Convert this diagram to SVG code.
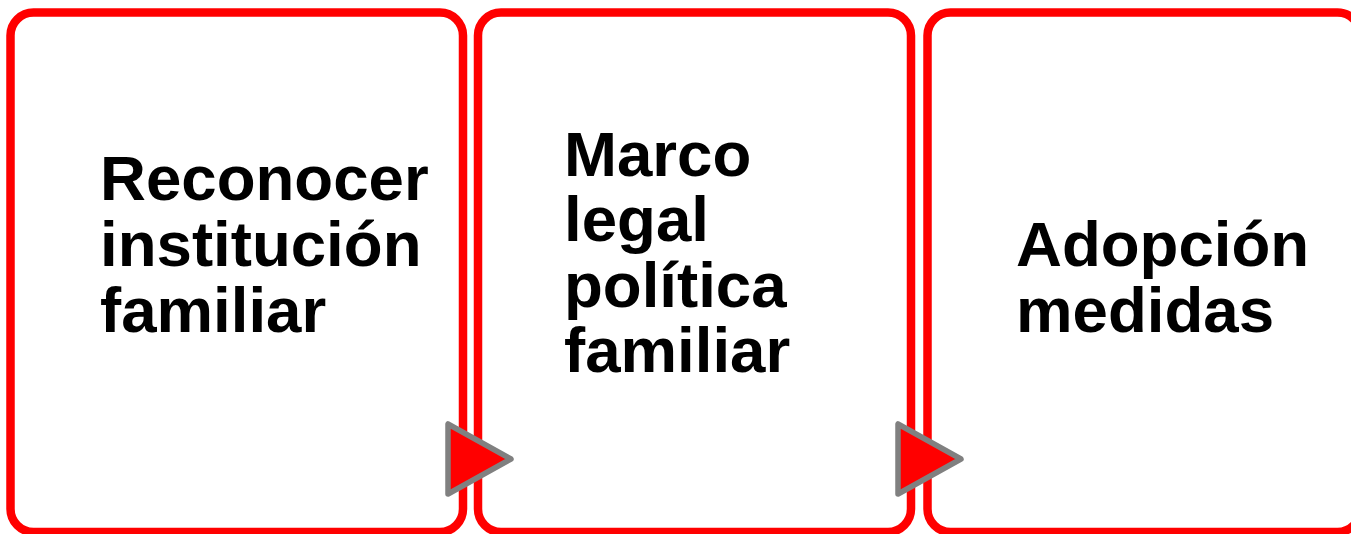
<svg xmlns="http://www.w3.org/2000/svg" width="1351" height="534" viewBox="0 0 1351 534">
<style>
.box{fill:#fff;stroke:#ff0000;stroke-width:8.5}
.lbl{font-family:"Liberation Sans",Arial,sans-serif;font-weight:bold;font-size:63.6px;fill:#000}
.arr{fill:#ff0000;stroke:#808080;stroke-width:5.5;stroke-linejoin:round}
</style>
<rect width="1351" height="534" fill="#fff"/>
<g id="node1">
<rect class="box" x="10.5" y="12.4" width="452.5" height="519.6" rx="23"/>
<text class="lbl" x="100" y="200">Reconocer</text>
<text class="lbl" x="100" y="266">institución</text>
<text class="lbl" x="100" y="332">familiar</text>
</g>
<g id="node2">
<rect class="box" x="478" y="12.4" width="433" height="519.6" rx="23"/>
<text class="lbl" x="564" y="176">Marco</text>
<text class="lbl" x="564" y="241">legal</text>
<text class="lbl" x="564" y="307">política</text>
<text class="lbl" x="564" y="372">familiar</text>
</g>
<g id="node3">
<rect class="box" x="927.5" y="12.4" width="433" height="519.6" rx="23"/>
<text class="lbl" x="1016" y="266">Adopción</text>
<text class="lbl" x="1016" y="332">medidas</text>
</g>
<g id="connectors">
<polygon class="arr" points="448,424 448,494 511,459"/>
<polygon class="arr" points="898,424 898,494 961,459"/>
</g>
</svg>
